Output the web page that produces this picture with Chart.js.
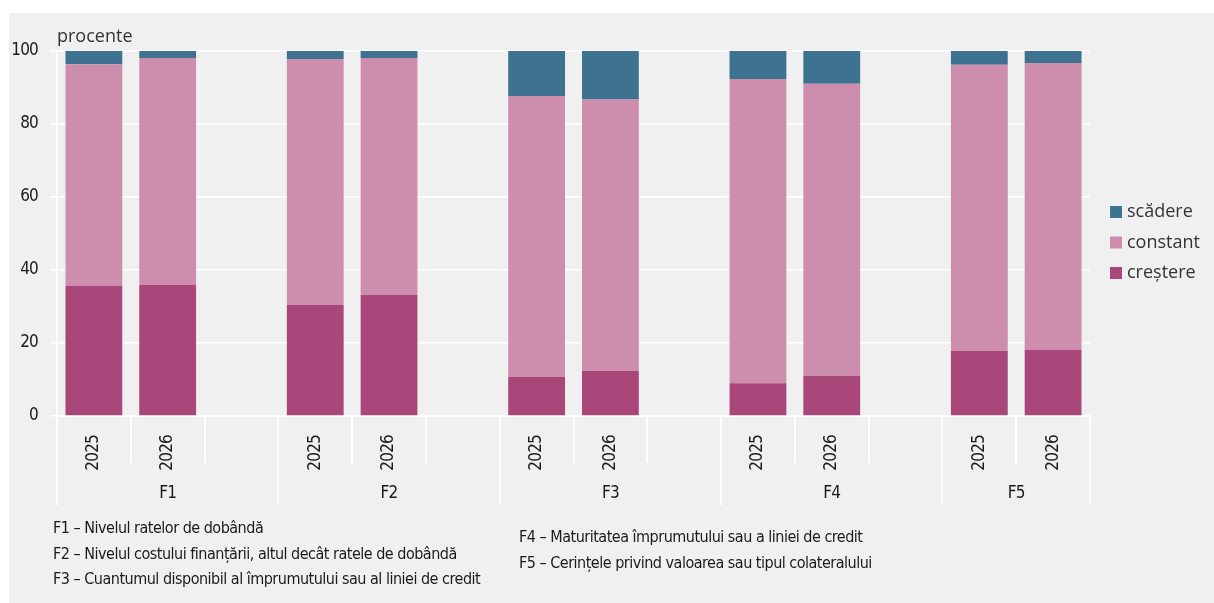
<!DOCTYPE html>
<html>
<head>
<meta charset="utf-8">
<script src="https://cdn.jsdelivr.net/npm/chart.js@4.4.1/dist/chart.umd.min.js"></script>
<style>
  html, body { margin: 0; padding: 0; background: #ffffff; }
  #wrap { position: relative; width: 1214px; height: 603px; overflow: hidden; }
  #panel { position: absolute; left: 9px; top: 13px; width: 1205px; height: 590px; background: #f0f0f0; }
  #c { position: absolute; left: 0; top: 0; }
  .note { position: absolute; font-family: 'DejaVu Sans Condensed', 'DejaVu Sans', sans-serif; font-stretch: condensed; font-size: 16px; letter-spacing: -0.5px; color: #1a1a1a; white-space: nowrap; line-height: 25.5px; }
</style>
</head>
<body>
<div id="wrap">
  <div id="panel"></div>
  <canvas id="c" width="1214" height="603"></canvas>
  <div id="notesLeft" class="note" style="left:53px; top:515px;"></div>
  <div id="notesRight" class="note" style="left:519px; top:524px;"></div>
</div>
<script>
// ---- data ----
const categories = ['2025','2026','', '2025','2026','', '2025','2026','', '2025','2026','', '2025','2026'];
const groups = ['F1','F2','F3','F4','F5'];
const groupSizes = [3,3,3,3,2];
const seriesNames = ['creștere','constant','scădere'];
const crestere = [35.6, 35.9, null, 30.4, 33.2, null, 10.7, 12.3, null, 9.0, 11.0, null, 17.8, 18.1];
const constant = [60.8, 62.2, null, 67.4, 64.9, null, 77.0, 74.4, null, 83.3, 80.0, null, 78.4, 78.6];
const scadere  = [3.6, 1.9, null, 2.2, 1.9, null, 12.3, 13.3, null, 7.7, 9.0, null, 3.8, 3.3];
const yTicks = [0, 20, 40, 60, 80, 100];
const unitLabel = 'procente';
const notesLeft = [
  'F1 – Nivelul ratelor de dobândă',
  'F2 – Nivelul costului finanțării, altul decât ratele de dobândă',
  'F3 – Cuantumul disponibil al împrumutului sau al liniei de credit'
];
const notesRight = [
  'F4 – Maturitatea împrumutului sau a liniei de credit',
  'F5 – Cerințele privind valoarea sau tipul colateralului'
];

const colors = ['#a9477a', '#cd8dad', '#3d7390'];
const condFamily = "'DejaVu Sans Condensed', 'DejaVu Sans', sans-serif";
const openFont = "'Open Sans', 'Noto Sans', sans-serif";

document.getElementById('notesLeft').innerHTML = notesLeft.map(s => '<div>' + s + '</div>').join('');
document.getElementById('notesRight').innerHTML = notesRight.map(s => '<div>' + s + '</div>').join('');

const extras = {
  id: 'extras',
  beforeDraw(chart) {
    try { chart.ctx.letterSpacing = '-0.8px'; } catch (e) {}
  },
  afterDraw(chart) {
    const ctx = chart.ctx;
    const xs = chart.scales.x;
    const area = chart.chartArea;
    const step = xs.getPixelForValue(1) - xs.getPixelForValue(0);
    const x0 = xs.getPixelForValue(0) - step / 2;
    const groupBounds = [0];
    groupSizes.forEach(s => groupBounds.push(groupBounds[groupBounds.length - 1] + s));
    ctx.save();
    ctx.strokeStyle = '#ffffff';
    ctx.lineWidth = 2;
    for (let i = 0; i <= categories.length; i++) {
      const bx = Math.round(x0 + i * step);
      const isGroup = groupBounds.includes(i);
      ctx.beginPath();
      ctx.moveTo(bx, area.bottom);
      ctx.lineTo(bx, area.bottom + (isGroup ? 89 : 47));
      ctx.stroke();
    }
    // group labels
    ctx.fillStyle = '#1a1a1a';
    ctx.font = 'condensed 17px ' + condFamily;
    ctx.textAlign = 'center';
    ctx.textBaseline = 'middle';
    groups.forEach((g, k) => {
      const cx = x0 + (groupBounds[k] + groupBounds[k + 1]) / 2 * step;
      ctx.fillText(g, cx, area.bottom + 78);
    });
    try { ctx.letterSpacing = '0px'; } catch (e) {}
    // unit label
    ctx.fillStyle = '#333333';
    ctx.font = '18px ' + openFont;
    ctx.textAlign = 'left';
    ctx.fillText(unitLabel, area.left, area.top - 14);
    // legend
    const ds = chart.data.datasets;
    ctx.font = '18px ' + openFont;
    for (let j = ds.length - 1, n = 0; j >= 0; j--, n++) {
      const y = area.top + 161 + n * 30.5;
      ctx.fillStyle = ds[j].backgroundColor;
      ctx.fillRect(area.right + 20, y - 6, 12, 12);
      ctx.fillStyle = '#333333';
      ctx.fillText(ds[j].label, area.right + 37, y);
    }
    ctx.restore();
  }
};

new Chart(document.getElementById('c'), {
  type: 'bar',
  data: {
    labels: categories,
    datasets: [
      { label: seriesNames[0], data: crestere, backgroundColor: colors[0] },
      { label: seriesNames[1], data: constant, backgroundColor: colors[1] },
      { label: seriesNames[2], data: scadere, backgroundColor: colors[2] }
    ]
  },
  options: {
    responsive: false,
    animation: false,
    layout: { padding: { left: 9, top: 51, right: 124, bottom: 127 } },
    datasets: { bar: { categoryPercentage: 1, barPercentage: 0.77 } },
    plugins: { legend: { display: false }, tooltip: { enabled: false } },
    scales: {
      x: {
        stacked: true,
        afterFit(s) { s.height = 60; },
        grid: { display: false },
        border: { display: true, color: '#ffffff', width: 2 },
        ticks: {
          autoSkip: false, minRotation: 90, maxRotation: 90, padding: 11,
          color: '#1a1a1a', font: { family: condFamily, size: 17, weight: 'condensed' }
        }
      },
      y: {
        stacked: true,
        min: 0, max: 100,
        afterFit(s) { s.width = 48; },
        afterBuildTicks(s) { s.ticks = yTicks.map(v => ({ value: v })); },
        grid: { color: '#ffffff', lineWidth: 1.5, tickLength: 7, drawTicks: true },
        border: { display: true, color: '#ffffff', width: 1.5 },
        ticks: { padding: 12, color: '#1a1a1a', font: { family: condFamily, size: 17, weight: 'condensed' } }
      }
    }
  },
  plugins: [extras]
});
</script>
</body>
</html>
